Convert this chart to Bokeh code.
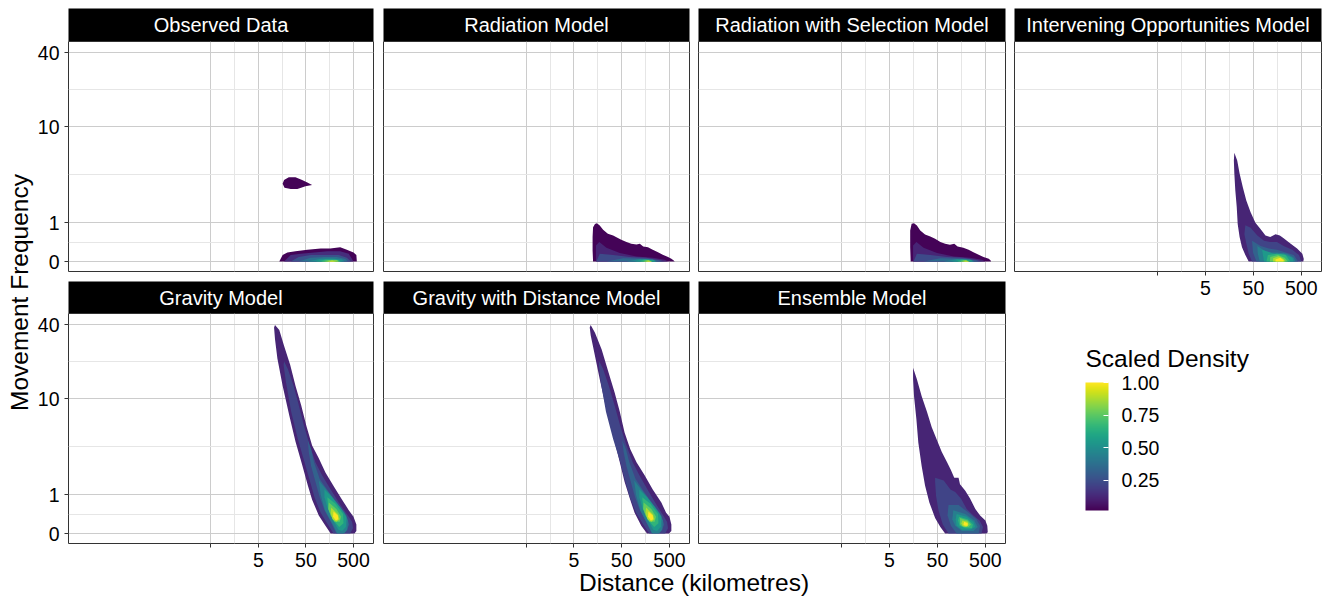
import numpy as np
from bokeh.plotting import figure
from bokeh.models import (ColumnDataSource, Range1d, FixedTicker, LinearColorMapper,
                          ColorBar, Label, PrintfTickFormatter)
from bokeh.layouts import row, column
from bokeh.palettes import Viridis256
from bokeh.embed import file_html
from bokeh.resources import INLINE

FONT = "Liberation Sans"

# ---------------- axis data ----------------
X_TICK_KM = [0.5, 5, 50, 500]
X_TICK_LABELS = ["", "5", "50", "500"]
Y_TICK_FREQ = [0, 1, 10, 40]
Y_TICK_LABELS = ["0", "1", "10", "40"]
LEGEND_TICKS = [0.25, 0.50, 0.75, 1.00]

MODELS = ["Observed Data", "Radiation Model", "Radiation with Selection Model",
          "Intervening Opportunities Model", "Gravity Model",
          "Gravity with Distance Model", "Ensemble Model"]

# Density contour bands.
# x: log10(distance km), y: log10(1 + movement frequency), level: scaled density
OBS_LOGD = [
    [1.21, 1.24, 1.34, 1.48, 1.62, 1.73, 1.83, 1.69, 1.52, 1.38, 1.25],
    [1.14, 1.21, 1.31, 1.48, 1.73, 2.01, 2.21, 2.42, 2.56, 2.70, 2.76, 2.77],
    [1.24, 1.38, 1.59, 1.87, 2.15, 2.42, 2.60, 2.70],
    [1.38, 1.55, 1.80, 2.11, 2.39, 2.56, 2.65],
    [1.55, 1.80, 2.08, 2.35, 2.53, 2.58],
    [1.73, 2.01, 2.25, 2.46, 2.51],
    [1.90, 2.11, 2.32, 2.46],
    [2.01, 2.16, 2.35, 2.42],
    [2.08, 2.22, 2.35, 2.39],
    [2.15, 2.25, 2.34],
]
OBS_LOGF = [
    [0.60, 0.63, 0.65, 0.65, 0.63, 0.61, 0.59, 0.58, 0.56, 0.56, 0.57],
    [0.0, 0.05, 0.07, 0.08, 0.09, 0.10, 0.10, 0.11, 0.09, 0.07, 0.05, 0.0],
    [0.0, 0.05, 0.06, 0.07, 0.08, 0.08, 0.06, 0.0],
    [0.0, 0.035, 0.05, 0.05, 0.05, 0.03, 0.0],
    [0.0, 0.03, 0.035, 0.035, 0.02, 0.0],
    [0.0, 0.022, 0.024, 0.015, 0.0],
    [0.0, 0.016, 0.016, 0.0],
    [0.0, 0.011, 0.011, 0.0],
    [0.0, 0.008, 0.007, 0.0],
    [0.0, 0.005, 0.0],
]
OBS_LEVEL = [0.03, 0.03, 0.15, 0.27, 0.39, 0.51, 0.63, 0.75, 0.87, 1.0]

RAD_LOGD = [
    [1.10, 1.09, 1.09, 1.10, 1.14, 1.18, 1.24, 1.31, 1.41, 1.52, 1.59, 1.69, 1.80,
     1.90, 2.01, 2.08, 2.15, 2.25, 2.35, 2.46, 2.56, 2.67, 2.74, 2.79, 2.81],
    [1.16, 1.16, 1.23, 1.38, 1.66, 2.01, 2.35, 2.60, 2.67],
    [1.17, 1.24, 1.52, 1.87, 2.21, 2.49, 2.60],
    [1.38, 1.73, 2.15, 2.46, 2.53],
    [1.80, 2.08, 2.35, 2.44],
    [1.97, 2.18, 2.37, 2.41],
    [2.08, 2.21, 2.35],
    [2.15, 2.25, 2.34],
    [2.20, 2.27, 2.33],
]
RAD_LOGF = [
    [0.0, 0.085, 0.19, 0.265, 0.29, 0.296, 0.278, 0.245, 0.214, 0.20, 0.188, 0.168, 0.15,
     0.137, 0.132, 0.137, 0.116, 0.111, 0.09, 0.072, 0.052, 0.034, 0.021, 0.008, 0.0],
    [0.0, 0.124, 0.15, 0.106, 0.065, 0.039, 0.029, 0.013, 0.0],
    [0.0, 0.06, 0.05, 0.035, 0.03, 0.012, 0.0],
    [0.0, 0.025, 0.022, 0.008, 0.0],
    [0.0, 0.02, 0.016, 0.0],
    [0.0, 0.016, 0.01, 0.0],
    [0.0, 0.012, 0.0],
    [0.0, 0.009, 0.0],
    [0.0, 0.006, 0.0],
]
RAD_LEVEL = [0.03, 0.12, 0.24, 0.36, 0.48, 0.60, 0.72, 0.86, 1.0]

RSEL_LOGD = [
    [1.14, 1.13, 1.13, 1.16, 1.21, 1.27, 1.34, 1.44, 1.55, 1.65, 1.76, 1.86, 1.96,
     2.05, 2.12, 2.24, 2.35, 2.45, 2.56, 2.66, 2.77, 2.81, 2.82],
    [1.19, 1.19, 1.26, 1.41, 1.69, 2.04, 2.38, 2.63, 2.70],
    [1.20, 1.27, 1.55, 1.90, 2.24, 2.52, 2.63],
    [1.41, 1.76, 2.18, 2.49, 2.56],
    [1.83, 2.11, 2.38, 2.47],
    [2.00, 2.21, 2.40, 2.44],
    [2.11, 2.24, 2.38],
    [2.18, 2.28, 2.37],
    [2.23, 2.30, 2.36],
]
RSEL_LOGF = [
    [0.0, 0.111, 0.24, 0.291, 0.296, 0.278, 0.24, 0.209, 0.193, 0.175, 0.15, 0.137, 0.129,
     0.137, 0.116, 0.106, 0.09, 0.072, 0.052, 0.034, 0.021, 0.008, 0.0],
    [0.0, 0.124, 0.15, 0.106, 0.065, 0.039, 0.029, 0.013, 0.0],
    [0.0, 0.06, 0.05, 0.035, 0.03, 0.012, 0.0],
    [0.0, 0.025, 0.022, 0.008, 0.0],
    [0.0, 0.02, 0.016, 0.0],
    [0.0, 0.016, 0.01, 0.0],
    [0.0, 0.012, 0.0],
    [0.0, 0.009, 0.0],
    [0.0, 0.006, 0.0],
]
RSEL_LEVEL = [0.03, 0.12, 0.24, 0.36, 0.48, 0.60, 0.72, 0.86, 1.0]

IO_LOGD = [
    [1.30, 1.36, 1.41, 1.48, 1.55, 1.64, 1.74, 1.85, 1.95, 2.05, 2.16, 2.25, 2.33, 2.47,
     2.61, 2.72, 2.75, 2.74, 1.60, 1.53, 1.46, 1.41, 1.37, 1.35, 1.32, 1.30, 1.29],
    [1.53, 1.64, 1.78, 1.92, 2.05, 2.19, 2.33, 2.51, 2.65, 2.70, 1.67, 1.60, 1.55, 1.51],
    [1.67, 1.85, 2.02, 2.19, 2.37, 2.54, 2.63, 1.76, 1.69],
    [1.78, 1.99, 2.19, 2.40, 2.54, 2.58, 1.83, 1.79],
    [1.88, 2.13, 2.33, 2.51, 2.54, 1.92],
    [2.00, 2.19, 2.37, 2.47, 1.97],
    [2.05, 2.21, 2.35, 2.42, 2.04],
    [2.11, 2.23, 2.33, 2.37, 2.11],
    [2.16, 2.26, 2.33, 2.33, 2.16],
]
IO_LOGF = [
    [0.84, 0.78, 0.68, 0.57, 0.47, 0.38, 0.30, 0.25, 0.20, 0.19, 0.21, 0.20, 0.18, 0.14,
     0.10, 0.06, 0.02, 0.0, 0.0, 0.05, 0.11, 0.19, 0.29, 0.42, 0.55, 0.68, 0.78],
    [0.28, 0.26, 0.20, 0.16, 0.15, 0.15, 0.12, 0.09, 0.05, 0.0, 0.0, 0.06, 0.14, 0.21],
    [0.16, 0.12, 0.10, 0.09, 0.07, 0.05, 0.0, 0.0, 0.07],
    [0.12, 0.07, 0.07, 0.06, 0.03, 0.0, 0.0, 0.06],
    [0.09, 0.06, 0.06, 0.03, 0.0, 0.0],
    [0.05, 0.06, 0.05, 0.0, 0.0],
    [0.035, 0.05, 0.03, 0.0, 0.0],
    [0.025, 0.04, 0.02, 0.0, 0.0],
    [0.015, 0.03, 0.01, 0.0, 0.0],
]
IO_LEVEL = [0.12, 0.22, 0.33, 0.44, 0.55, 0.66, 0.77, 0.88, 1.0]

GRAV_LOGD = [
    [1.05, 1.14, 1.24, 1.37, 1.48, 1.60, 1.71, 1.83, 1.97, 2.11, 2.29, 2.46, 2.60, 2.70, 2.76,
     2.76, 2.72, 2.22, 2.11, 1.97, 1.83, 1.74, 1.62, 1.48, 1.35, 1.21, 1.10, 1.05, 1.03],
    [1.24, 1.32, 1.44, 1.55, 1.66, 1.78, 1.90, 2.04, 2.22, 2.39, 2.56, 2.67, 2.69, 2.63,
     2.28, 2.16, 2.01, 1.88, 1.78, 1.67, 1.53, 1.39, 1.28, 1.23],
    [1.74, 1.81, 1.87, 1.99, 2.18, 2.39, 2.55, 2.61, 2.56, 2.34, 2.22, 2.09, 1.99, 1.90, 1.81, 1.76],
    [1.97, 2.15, 2.34, 2.51, 2.58, 2.57, 2.50, 2.36, 2.25, 2.10, 2.01],
    [2.09, 2.25, 2.42, 2.55, 2.54, 2.46, 2.38, 2.27, 2.15, 2.09],
    [2.15, 2.32, 2.48, 2.49, 2.40, 2.28, 2.17],
    [2.18, 2.34, 2.44, 2.41, 2.30, 2.22, 2.17],
    [2.23, 2.37, 2.41, 2.34, 2.26, 2.22],
    [2.28, 2.37, 2.38, 2.33, 2.27],
]
GRAV_LOGF = [
    [1.61, 1.57, 1.45, 1.30, 1.14, 0.99, 0.83, 0.68, 0.58, 0.47, 0.36, 0.26, 0.18, 0.13, 0.07,
     0.02, 0.0, 0.0, 0.06, 0.14, 0.26, 0.37, 0.53, 0.71, 0.91, 1.14, 1.35, 1.50, 1.59],
    [1.33, 1.27, 1.14, 0.99, 0.83, 0.68, 0.55, 0.45, 0.34, 0.24, 0.15, 0.09, 0.04, 0.0,
     0.0, 0.07, 0.16, 0.28, 0.41, 0.55, 0.73, 0.94, 1.17, 1.30],
    [0.72, 0.65, 0.55, 0.42, 0.32, 0.22, 0.14, 0.07, 0.03, 0.0, 0.09, 0.18, 0.28, 0.40, 0.52, 0.63],
    [0.41, 0.33, 0.24, 0.16, 0.10, 0.03, 0.0, 0.0, 0.08, 0.18, 0.30],
    [0.34, 0.28, 0.20, 0.13, 0.05, 0.02, 0.03, 0.10, 0.20, 0.28],
    [0.28, 0.23, 0.15, 0.08, 0.05, 0.10, 0.19],
    [0.24, 0.19, 0.13, 0.09, 0.09, 0.14, 0.19],
    [0.20, 0.15, 0.11, 0.09, 0.11, 0.16],
    [0.17, 0.14, 0.11, 0.10, 0.13],
]
GRAV_LEVEL = [0.12, 0.22, 0.33, 0.44, 0.55, 0.66, 0.77, 0.88, 1.0]

GDIST_LOGD = [
    [1.05, 1.14, 1.28, 1.41, 1.55, 1.66, 1.76, 1.88, 2.01, 2.18, 2.35, 2.53, 2.63, 2.70, 2.74,
     2.74, 2.69, 2.23, 2.11, 1.97, 1.87, 1.76, 1.66, 1.52, 1.38, 1.24, 1.14, 1.05, 1.03],
    [1.23, 1.31, 1.43, 1.55, 1.67, 1.80, 1.93, 2.07, 2.24, 2.40, 2.55, 2.65, 2.67, 2.61,
     2.28, 2.15, 2.00, 1.87, 1.77, 1.67, 1.52, 1.37, 1.26, 1.22],
    [1.71, 1.79, 1.86, 1.99, 2.17, 2.37, 2.53, 2.59, 2.54, 2.33, 2.21, 2.08, 1.98, 1.89, 1.80, 1.74],
    [1.96, 2.13, 2.32, 2.49, 2.56, 2.55, 2.48, 2.34, 2.23, 2.09, 2.00],
    [2.07, 2.23, 2.40, 2.53, 2.52, 2.44, 2.36, 2.25, 2.13, 2.07],
    [2.13, 2.30, 2.46, 2.47, 2.38, 2.26, 2.15],
    [2.16, 2.32, 2.42, 2.39, 2.28, 2.20, 2.15],
    [2.21, 2.35, 2.39, 2.32, 2.24, 2.20],
    [2.26, 2.35, 2.36, 2.31, 2.25],
]
GDIST_LOGF = [
    [1.61, 1.55, 1.42, 1.26, 1.09, 0.94, 0.78, 0.65, 0.55, 0.45, 0.34, 0.24, 0.16, 0.13, 0.07,
     0.02, 0.0, 0.0, 0.06, 0.16, 0.27, 0.40, 0.55, 0.76, 0.96, 1.19, 1.37, 1.53, 1.59],
    [1.33, 1.27, 1.14, 0.99, 0.83, 0.68, 0.55, 0.45, 0.34, 0.24, 0.15, 0.09, 0.04, 0.0,
     0.0, 0.07, 0.16, 0.28, 0.41, 0.55, 0.73, 0.94, 1.17, 1.30],
    [0.72, 0.65, 0.55, 0.42, 0.32, 0.22, 0.14, 0.07, 0.03, 0.0, 0.09, 0.18, 0.28, 0.40, 0.52, 0.63],
    [0.41, 0.33, 0.24, 0.16, 0.10, 0.03, 0.0, 0.0, 0.08, 0.18, 0.30],
    [0.34, 0.28, 0.20, 0.13, 0.05, 0.02, 0.03, 0.10, 0.20, 0.28],
    [0.28, 0.23, 0.15, 0.08, 0.05, 0.10, 0.19],
    [0.24, 0.19, 0.13, 0.09, 0.09, 0.14, 0.19],
    [0.20, 0.15, 0.11, 0.09, 0.11, 0.16],
    [0.17, 0.14, 0.11, 0.10, 0.13],
]
GDIST_LEVEL = [0.12, 0.22, 0.33, 0.44, 0.55, 0.66, 0.77, 0.88, 1.0]

ENS_LOGD = [
    [1.19, 1.27, 1.37, 1.48, 1.58, 1.69, 1.79, 1.90, 1.98, 2.05, 2.14, 2.17, 2.28, 2.38, 2.49,
     2.59, 2.70, 2.74, 2.75, 2.72, 1.86, 1.76, 1.65, 1.53, 1.44, 1.37, 1.30, 1.26, 1.21, 1.19],
    [1.65, 1.83, 1.97, 2.07, 2.19, 2.31, 2.45, 2.58, 2.65, 2.62, 1.93, 1.81, 1.72, 1.67, 1.65],
    [1.93, 2.14, 2.35, 2.51, 2.59, 2.56, 2.31, 2.10, 1.98, 1.91],
    [2.03, 2.28, 2.47, 2.54, 2.45, 2.21, 2.07, 2.01],
    [2.10, 2.31, 2.45, 2.49, 2.38, 2.21, 2.10, 2.08],
    [2.15, 2.33, 2.44, 2.42, 2.28, 2.16, 2.13],
    [2.17, 2.33, 2.40, 2.35, 2.24, 2.17],
    [2.22, 2.33, 2.35, 2.30, 2.22, 2.20],
    [2.26, 2.33, 2.33, 2.27, 2.24],
]
ENS_LOGF = [
    [1.28, 1.19, 1.06, 0.94, 0.82, 0.72, 0.63, 0.55, 0.49, 0.43, 0.43, 0.38, 0.33, 0.27, 0.19,
     0.14, 0.10, 0.06, 0.01, 0.0, 0.0, 0.05, 0.12, 0.24, 0.37, 0.52, 0.70, 0.88, 1.06, 1.19],
    [0.43, 0.41, 0.34, 0.32, 0.27, 0.19, 0.14, 0.10, 0.05, 0.0, 0.0, 0.07, 0.18, 0.29, 0.40],
    [0.22, 0.22, 0.16, 0.11, 0.06, 0.0, 0.0, 0.0, 0.06, 0.14],
    [0.18, 0.15, 0.10, 0.05, 0.02, 0.02, 0.06, 0.11],
    [0.15, 0.13, 0.09, 0.05, 0.03, 0.03, 0.06, 0.11],
    [0.13, 0.11, 0.07, 0.04, 0.04, 0.06, 0.10],
    [0.12, 0.10, 0.07, 0.05, 0.05, 0.07],
    [0.10, 0.09, 0.07, 0.05, 0.06, 0.08],
    [0.09, 0.08, 0.06, 0.06, 0.07],
]
ENS_LEVEL = [0.12, 0.22, 0.33, 0.44, 0.55, 0.66, 0.77, 0.88, 1.0]

# ---------------- scales ----------------
X_LO, X_HI = -3.29, 3.12
Y_LO, Y_HI = -0.077, 1.698

x_major = [float(np.log10(v)) for v in X_TICK_KM]
x_minor = [(a + b) / 2 for a, b in zip(x_major[:-1], x_major[1:])]
y_major = [float(np.log10(1 + v)) for v in Y_TICK_FREQ]
y_minor = [(a + b) / 2 for a, b in zip(y_major[:-1], y_major[1:])]

mapper = LinearColorMapper(palette=Viridis256, low=0.02, high=1.0)

GRID_MAJOR = "#cccccc"
GRID_MINOR = "#e6e6e6"
BORDER = "#333333"
TICK_FS = "19.5px"
TITLE_FS = "24.5px"


def blank(width, height, mbl=0, mbr=0, mbt=0, mbb=0, bg="white", alpha=1.0):
    f = figure(width=width, height=height, x_range=Range1d(0, 1), y_range=Range1d(0, 1),
               x_axis_location=None, y_axis_location=None, toolbar_location=None,
               output_backend="svg", min_border_left=mbl, min_border_right=mbr,
               min_border_top=mbt, min_border_bottom=mbb, background_fill_color=bg,
               background_fill_alpha=alpha, border_fill_color="white",
               border_fill_alpha=alpha, outline_line_color=None)
    f.grid.visible = False
    return f


def strip(title, width, height, mbl, mbr, mbt):
    s = blank(width, height, mbl=mbl, mbr=mbr, mbt=mbt, bg="black")
    s.add_layout(Label(x=0.5, y=0.5, text=title, text_align="center", text_baseline="middle",
                       text_color="white", text_font_size="20px", text_font=FONT))
    return s


def panel(xs, ys, lv, width, mbl, mbr, mbb, left, bottom):
    p = figure(width=width, height=230 + mbb, x_range=Range1d(X_LO, X_HI),
               y_range=Range1d(Y_LO, Y_HI),
               x_axis_location="below" if bottom else None,
               y_axis_location="left" if left else None,
               toolbar_location=None, output_backend="svg",
               min_border_left=mbl, min_border_right=mbr, min_border_top=0,
               min_border_bottom=mbb, background_fill_color="white",
               border_fill_color="white", outline_line_color=BORDER, outline_line_width=1)
    xt = FixedTicker(ticks=x_major, minor_ticks=x_minor)
    yt = FixedTicker(ticks=y_major, minor_ticks=y_minor)
    p.xgrid.ticker = xt
    p.ygrid.ticker = yt
    for g in (p.xgrid[0], p.ygrid[0]):
        g.grid_line_color = GRID_MAJOR
        g.grid_line_width = 1
        g.minor_grid_line_color = GRID_MINOR
        g.minor_grid_line_width = 1
        g.level = "underlay"
    src = ColumnDataSource(data=dict(xs=xs, ys=ys, level=lv))
    p.patches("xs", "ys", source=src, fill_color={"field": "level", "transform": mapper},
              line_color=None, fill_alpha=1.0)
    axes = []
    if bottom:
        ax = p.xaxis[0]
        ax.ticker = xt
        ax.major_label_overrides = {v: lab for v, lab in zip(x_major, X_TICK_LABELS)}
        axes.append(ax)
    if left:
        ay = p.yaxis[0]
        ay.ticker = yt
        ay.major_label_overrides = {v: lab for v, lab in zip(y_major, Y_TICK_LABELS)}
        axes.append(ay)
    for a in axes:
        a.axis_line_color = None
        a.major_tick_line_color = BORDER
        a.major_tick_out = 4
        a.major_tick_in = 0
        a.minor_tick_line_color = None
        a.major_label_text_font_size = TICK_FS
        a.major_label_text_font = FONT
        a.major_label_text_color = "black"
        a.major_label_standoff = 5
    return p


AXB = 32   # bottom axis band
LAB = 32   # left axis band

# column 1
c1 = column(
    strip(MODELS[0], LAB + 307 + 10, 41, LAB, 10, 8),
    panel(OBS_LOGD, OBS_LOGF, OBS_LEVEL, LAB + 307 + 10, LAB, 10, 10, True, False),
    strip(MODELS[4], LAB + 307 + 10, 32, LAB, 10, 0),
    panel(GRAV_LOGD, GRAV_LOGF, GRAV_LEVEL, LAB + 307 + 10, LAB, 10, AXB, True, True),
)
# column 2
c2 = column(
    strip(MODELS[1], 306 + 9, 41, 0, 9, 8),
    panel(RAD_LOGD, RAD_LOGF, RAD_LEVEL, 306 + 9, 0, 9, 10, False, False),
    strip(MODELS[5], 306 + 9, 32, 0, 9, 0),
    panel(GDIST_LOGD, GDIST_LOGF, GDIST_LEVEL, 306 + 9, 0, 9, AXB, False, True),
)
# column 3
c3 = column(
    strip(MODELS[2], 307 + 9, 41, 0, 9, 8),
    panel(RSEL_LOGD, RSEL_LOGF, RSEL_LEVEL, 307 + 9, 0, 9, 10, False, False),
    strip(MODELS[6], 307 + 9, 32, 0, 9, 0),
    panel(ENS_LOGD, ENS_LOGF, ENS_LEVEL, 307 + 9, 0, 9, AXB, False, True),
)
# column 4 : IO panel + legend
LEG_H = 272
leg = blank(309, LEG_H)
cb = ColorBar(color_mapper=mapper, location=(71, 65), orientation="vertical", width=23,
              height=128, padding=0, ticker=FixedTicker(ticks=LEGEND_TICKS),
              formatter=PrintfTickFormatter(format="%.2f"),
              major_label_text_font_size=TICK_FS, major_label_text_font=FONT,
              major_label_text_color="black", label_standoff=13,
              major_tick_line_color="white", major_tick_in=5, major_tick_out=0,
              minor_tick_line_color=None, bar_line_color=None,
              background_fill_alpha=0, border_line_color=None)
leg.add_layout(cb, "center")
leg.add_layout(Label(x=71, y=217, x_units="screen", y_units="screen", text="Scaled Density",
                     text_align="left", text_baseline="middle",
                     text_font_size=TITLE_FS, text_font=FONT, text_color="black"))

c4 = column(
    strip(MODELS[3], 307 + 2, 41, 0, 2, 8),
    panel(IO_LOGD, IO_LOGF, IO_LEVEL, 307 + 2, 0, 2, AXB, False, True),
    leg,
)

# axis titles
ylab = blank(34, 598, mbt=41, mbb=55)
ylab.add_layout(Label(x=0.55, y=0.5, text="Movement Frequency", angle=np.pi / 2,
                      text_align="center", text_baseline="middle",
                      text_font_size=TITLE_FS, text_font=FONT, text_color="black"))
xlab = blank(1289, 29, mbl=32, mbr=2, alpha=0.0)
xlab.margin = (-6, 0, 0, 0)
xlab.add_layout(Label(x=0.5, y=0.55, text="Distance (kilometres)", text_align="center",
                      text_baseline="middle", text_font_size=TITLE_FS, text_font=FONT,
                      text_color="black"))

layout = row(ylab, column(row(c1, c2, c3, c4), xlab))

open("out.html", "w").write(file_html(layout, INLINE, "Movement density"))
